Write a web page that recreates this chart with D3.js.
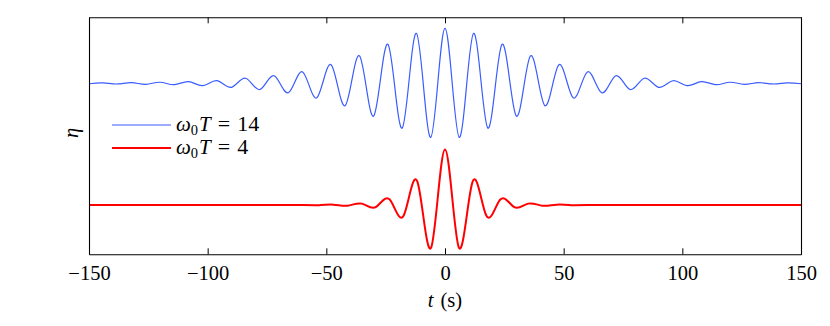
<!DOCTYPE html>
<html>
<head>
<meta charset="utf-8">
<script src="https://cdn.jsdelivr.net/npm/d3@7"></script>
<style>
  body { margin: 0; background: #fff; }
  svg { display: block; }
  text, tspan { font-family: "Liberation Serif", "Times New Roman", serif; }
</style>
</head>
<body>
<div class="chart"></div>
<script>
const SVG_WIDTH = 830;
const SVG_HEIGHT = 326;

// x ticks
const tickValues = [-150, -100, -50, 0, 50, 100, 150];

// blue packet, omega0 T = 14 : extrema
const blueT = [
    -150, -144, -138, -132, -126, -120, -114, -108, -102, -96, -90, -84, -78, -72, -66, -60,
    -54, -48, -42, -36, -30, -24, -18, -12, -6, 0,
    6, 12, 18, 24, 30, 36, 42, 48, 54, 60, 66, 72, 78, 84, 90, 96,
    102, 108, 114, 120, 126, 132, 138, 144, 150
];
const blueEta = [
    -0.005, 0.009, -0.009, 0.015, -0.015, 0.022, -0.022, 0.033, -0.04, 0.05, -0.07, 0.095, -0.11, 0.14, -0.17, 0.21,
    -0.26, 0.34, -0.40, 0.50, -0.59, 0.71, -0.81, 0.91, -0.98, 1.0,
    -0.98, 0.91, -0.81, 0.71, -0.59, 0.50, -0.40, 0.34, -0.26, 0.21, -0.17, 0.14, -0.11, 0.095, -0.07, 0.05,
    -0.04, 0.033, -0.022, 0.022, -0.015, 0.015, -0.009, 0.009, -0.005
];

// red packet, omega0 T = 4
const redT = [
    -150, -120, -90, -60, -53, -47, -41, -35, -29.2, -23.3, -17.4, -11.6, -5.8, 0,
    5.8, 11.6, 17.4, 23.3, 29.2, 35, 41, 47, 53, 60, 90, 120, 150
];
const redEta = [
    0, 0, 0, 0, -0.003, 0.006, -0.012, 0.025, -0.04, 0.10, -0.19, 0.42, -0.77, 1.01,
    -0.77, 0.42, -0.19, 0.10, -0.04, 0.025, -0.012, 0.006, -0.003, 0, 0, 0, 0
];

// vertical offset of the blue packet above the red one
const blueOffset = 2.21;

const legendLabels = [
    { sym: "ω", sub: "0", rest: "T", val: "14", colour: "#3a5cff", width: 1.2 },
    { sym: "ω", sub: "0", rest: "T", val: "4", colour: "#ff0000", width: 2 }
];

const margin = { top: 17.3, right: 29, bottom: 71.7, left: 89 };
const plotW = SVG_WIDTH - margin.left - margin.right;
const plotH = SVG_HEIGHT - margin.top - margin.bottom;

const svg = d3.select(".chart")
    .append("svg")
    .attr("width", SVG_WIDTH)
    .attr("height", SVG_HEIGHT);

const x = d3.scaleLinear().domain([-150, 150]).range([0, plotW]);
const y = d3.scaleLinear().domain([-0.896, 3.413]).range([plotH, 0]);

const g = svg.append("g").attr("transform", `translate(${margin.left}, ${margin.top})`);

const line = d3.line()
    .x(d => x(d[0]))
    .y(d => y(d[1]))
    .curve(d3.curveNatural);

const blueData = blueT.map((t, i) => [t, blueEta[i] + blueOffset]);
const redData = redT.map((t, i) => [t, redEta[i]]);

g.append("path")
    .datum(blueData)
    .attr("d", line)
    .attr("fill", "none")
    .attr("stroke", legendLabels[0].colour)
    .attr("stroke-width", legendLabels[0].width);

g.append("path")
    .datum(redData)
    .attr("d", line)
    .attr("fill", "none")
    .attr("stroke", legendLabels[1].colour)
    .attr("stroke-width", legendLabels[1].width);

// axes: ticks point inwards, box all round
const xAxis = g.append("g")
    .attr("transform", `translate(0, ${plotH})`)
    .call(d3.axisBottom(x)
        .tickValues(tickValues)
        .tickSizeInner(-6)
        .tickSizeOuter(0)
        .tickPadding(11.5));

const xTop = g.append("g")
    .call(d3.axisTop(x)
        .tickValues(tickValues)
        .tickSizeInner(-6)
        .tickSizeOuter(0)
        .tickFormat(""));

const yLeft = g.append("g")
    .call(d3.axisLeft(y).tickValues([]).tickSizeOuter(0));

const yRight = g.append("g")
    .attr("transform", `translate(${plotW}, 0)`)
    .call(d3.axisRight(y).tickValues([]).tickSizeOuter(0));

g.selectAll(".domain").attr("stroke", "#000").attr("stroke-width", 1.1);
g.selectAll(".tick line").attr("stroke", "#000").attr("stroke-width", 1);

xAxis.selectAll(".tick text")
    .attr("fill", "#000")
    .style("font-size", "20.5px")
    .style("font-family", "Liberation Serif");

// axis titles
const xTitle = svg.append("text")
    .attr("x", margin.left + x(0))
    .attr("y", 307)
    .attr("text-anchor", "middle")
    .style("font-size", "20.5px");
xTitle.append("tspan").style("font-style", "italic").text("t");
xTitle.append("tspan").attr("dx", 7).text("(s)");

svg.append("text")
    .attr("transform", `translate(78, 133) rotate(-90)`)
    .attr("text-anchor", "middle")
    .style("font-size", "20.5px")
    .style("font-style", "italic")
    .text("η");

// legend
const legend = svg.append("g").attr("transform", "translate(112, 125)");

legendLabels.forEach((d, i) => {
    const row = legend.append("g").attr("transform", `translate(0, ${i * 23})`);
    row.append("line")
        .attr("x1", 0).attr("x2", 59)
        .attr("y1", 0).attr("y2", 0)
        .attr("stroke", d.colour)
        .attr("stroke-width", d.width);
    const txt = row.append("text")
        .attr("x", 64)
        .attr("y", 6)
        .style("font-family", "Liberation Serif")
        .style("font-size", "21px");
    txt.append("tspan").style("font-style", "italic").text(d.sym);
    txt.append("tspan").attr("dy", 4).style("font-size", "14.5px").text(d.sub);
    txt.append("tspan").attr("dy", -4).attr("dx", 1).style("font-style", "italic").text(d.rest);
    txt.append("tspan").attr("dx", 7).style("font-size", "22px").text("=");
    txt.append("tspan").attr("dx", 7).style("font-size", "22px").text(d.val);
});
</script>
</body>
</html>
